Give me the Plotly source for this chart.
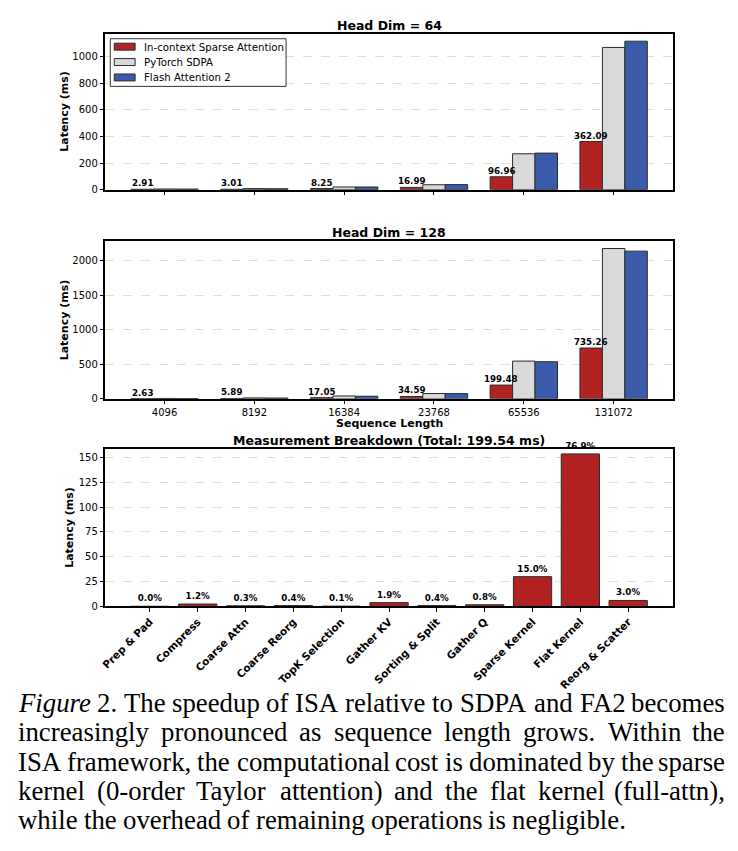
import plotly.graph_objects as go

W, H = 738, 851

# ---------------- data ----------------
seq_lengths = ["4096", "8192", "16384", "23768", "65536", "131072"]
series_names = ["In-context Sparse Attention", "PyTorch SDPA", "Flash Attention 2"]

isa_64 = [2.91, 3.01, 8.25, 16.99, 96.96, 362.09]
sdpa_64 = [5.0, 8.0, 20.0, 37.0, 270.0, 1070.0]
fa2_64 = [4.5, 7.0, 20.0, 38.0, 275.0, 1117.0]

isa_128 = [2.63, 5.89, 17.05, 34.59, 199.48, 735.26]
sdpa_128 = [6.0, 14.0, 42.0, 77.0, 546.0, 2174.0]
fa2_128 = [5.0, 12.0, 38.0, 76.0, 537.0, 2136.0]

stages = ["Prep & Pad", "Compress", "Coarse Attn", "Coarse Reorg", "TopK Selection",
          "Gather KV", "Sorting & Split", "Gather Q", "Sparse Kernel", "Flat Kernel",
          "Reorg & Scatter"]
stage_ms = [0.04, 2.39, 0.60, 0.80, 0.20, 3.79, 0.80, 1.60, 29.93, 153.45, 5.99]
total_ms = 199.54

caption_lines = [
    "Figure 2. The speedup of ISA relative to SDPA and FA2 becomes",
    "increasingly pronounced as sequence length grows. Within the",
    "ISA framework, the computational cost is dominated by the sparse",
    "kernel (0-order Taylor attention) and the flat kernel (full-attn),",
    "while the overhead of remaining operations is negligible.",
]

# ---------------- styles ----------------
colors = ["#b22222", "#d9d9d9", "#3a5ba9"]
EDGE = "#2b2b2b"
edge = dict(color=EDGE, width=1)
FONT = "DejaVu Sans"

def px_x(x):
    return x / W

def px_y(y):
    return 1 - y / H

fig = go.Figure()

pos6 = list(range(len(seq_lengths)))
pos11 = list(range(len(stages)))
offsets = [-0.375, -0.125, 0.125]
panels = [
    ("x", "y", [isa_64, sdpa_64, fa2_64]),
    ("x2", "y2", [isa_128, sdpa_128, fa2_128]),
]
ann = []
for xa, ya, data in panels:
    for i, (name, vals) in enumerate(zip(series_names, data)):
        fig.add_trace(go.Bar(
            x=pos6, y=vals, name=name, xaxis=xa, yaxis=ya,
            width=0.25, offset=offsets[i],
            marker=dict(color=colors[i], line=edge),
            showlegend=False, hoverinfo="skip",
        ))
    # value labels above ISA bars
    for p, v in zip(pos6, data[0]):
        ann.append(dict(text=f"<b>{v:.2f}</b>", x=p - 0.25, y=v, xref=xa, yref=ya,
                        showarrow=False, xanchor="center", yanchor="bottom", yshift=0,
                        borderpad=0, font=dict(family=FONT, size=8.7, color="black")))

fig.add_trace(go.Bar(
    x=pos11, y=stage_ms, xaxis="x3", yaxis="y3", width=0.8,
    marker=dict(color=colors[0], line=edge), showlegend=False,
    text=[f"<b>{v / total_ms * 100:.1f}%</b>" for v in stage_ms],
    textposition="outside", textfont=dict(family=FONT, size=8.7, color="black"),
    constraintext="none", cliponaxis=False, hoverinfo="skip",
))

xdom = [px_x(100.7), px_x(672.7)]
common_x = dict(
    domain=xdom, showline=True, mirror=True, linecolor="black", linewidth=1.5,
    ticks="outside", ticklen=3.5, tickcolor="black", showgrid=False, zeroline=False,
    tickfont=dict(family=FONT, size=10, color="black"),
)
common_y = dict(
    showline=True, mirror=True, linecolor="black", linewidth=1.5,
    ticks="outside", ticklen=3.5, tickcolor="black", showgrid=True,
    gridcolor="rgba(0,0,0,0.13)", griddash="dash", gridwidth=0.8, zeroline=False,
    tickfont=dict(family=FONT, size=10, color="black"),
)

fig.update_layout(
    width=W, height=H, margin=dict(l=0, r=0, t=0, b=0),
    paper_bgcolor="white", plot_bgcolor="white", barmode="overlay",
    font=dict(family=FONT, color="black"), showlegend=False,
    xaxis=dict(common_x, anchor="y", range=[-0.6625, 5.6625], tickvals=pos6,
               ticktext=seq_lengths, showticklabels=False),
    yaxis=dict(common_y, anchor="x", domain=[px_y(191), px_y(34)],
               range=[0, 1117 * 1.05], tickvals=[0, 200, 400, 600, 800, 1000]),
    xaxis2=dict(common_x, anchor="y2", range=[-0.6625, 5.6625], tickvals=pos6,
                ticktext=seq_lengths),
    yaxis2=dict(common_y, anchor="x2", domain=[px_y(401.7), px_y(242.7)],
                range=[0, 2174 * 1.05], tickvals=[0, 500, 1000, 1500, 2000]),
    xaxis3=dict(common_x, anchor="y3", range=[-0.94, 10.94], tickvals=pos11,
                ticktext=stages, tickangle=-45,
                tickfont=dict(family=FONT, size=10.5, color="black", weight="bold")),
    yaxis3=dict(common_y, anchor="x3", domain=[px_y(610.7), px_y(452.3)],
                range=[0, 158.3], tickvals=[0, 25, 50, 75, 100, 125, 150]),
)

# ---------------- manual legend (matplotlib style) ----------------
shapes = [dict(type="rect", xref="paper", yref="paper",
               x0=px_x(106), x1=px_x(283), y0=px_y(87), y1=px_y(39),
               line=dict(color="#333", width=1), fillcolor="white", layer="above")]
for i, (name, yc) in enumerate(zip(series_names, [47, 62.5, 78])):
    shapes.append(dict(type="rect", xref="paper", yref="paper",
                       x0=px_x(110), x1=px_x(131), y0=px_y(yc + 3.5), y1=px_y(yc - 3.5),
                       line=edge, fillcolor=colors[i], layer="above"))
    ann.append(dict(text=name, x=px_x(139), y=px_y(yc + 0.5), xref="paper", yref="paper",
                    showarrow=False, xanchor="left", yanchor="middle", borderpad=0,
                    font=dict(family=FONT, size=10.2, color="black")))

# ---------------- titles / axis labels ----------------
cx = (100.7 + 672.7) / 2
for txt, y in [("Head Dim = 64", 25.5), ("Head Dim = 128", 234.5),
               ("Measurement Breakdown (Total: 199.54 ms)", 443.5)]:
    ann.append(dict(text=f"<b>{txt}</b>", x=px_x(cx), y=px_y(y), xref="paper", yref="paper",
                    showarrow=False, xanchor="center", yanchor="middle", borderpad=0,
                    font=dict(family=FONT, size=12.5, color="black")))
ann.append(dict(text="<b>Sequence Length</b>", x=px_x(cx), y=px_y(427), xref="paper",
                yref="paper", showarrow=False, xanchor="center", yanchor="middle",
                borderpad=0, font=dict(family=FONT, size=11, color="black")))
for x, y in [(60, 112), (60, 322), (65, 531)]:
    ann.append(dict(text="<b>Latency (ms)</b>", x=px_x(x), y=px_y(y), xref="paper",
                    yref="paper", showarrow=False, textangle=-90, xanchor="center",
                    yanchor="middle", borderpad=0,
                    font=dict(family=FONT, size=11, color="black")))

# ---------------- justified caption (Times metrics) ----------------
TW = {" ": 250, "a": 444, "b": 500, "c": 444, "d": 500, "e": 444, "f": 333, "g": 500,
      "h": 500, "i": 278, "j": 278, "k": 500, "l": 278, "m": 778, "n": 500, "o": 500,
      "p": 500, "q": 500, "r": 333, "s": 389, "t": 278, "u": 500, "v": 500, "w": 722,
      "x": 500, "y": 500, "z": 444, "A": 722, "D": 722, "F": 556, "I": 333, "P": 556,
      "S": 556, "T": 611, "W": 944, ".": 250, ",": 250, "(": 333, ")": 333, "-": 333,
      "0": 500, "2": 500}
ITW = {"F": 611, "i": 278, "g": 500, "u": 500, "r": 389, "e": 444}
CAP_SIZE = 26.8
X_LEFT, X_RIGHT = 12, 726
cap_font = dict(family="Liberation Serif", size=CAP_SIZE, color="black")
cap_y = [708, 737.5, 767, 796.5, 826]

def word_width(w, italic=False):
    tab = ITW if italic else TW
    return sum(tab.get(c, 500) for c in w) / 1000 * CAP_SIZE

for li, (line, y) in enumerate(zip(caption_lines, cap_y)):
    words = line.split(" ")
    last = li == len(caption_lines) - 1
    widths = [word_width(w, italic=(li == 0 and k == 0)) for k, w in enumerate(words)]
    if last:
        gap = TW[" "] / 1000 * CAP_SIZE
    else:
        gap = (X_RIGHT - X_LEFT - sum(widths)) / (len(words) - 1)
    x = X_LEFT
    for k, (w, ww) in enumerate(zip(words, widths)):
        txt = f"<i>{w}</i>" if (li == 0 and k == 0) else w
        if (not last) and k == len(words) - 1:
            ann.append(dict(text=txt, x=px_x(X_RIGHT), y=px_y(y), xref="paper",
                            yref="paper", showarrow=False, xanchor="right",
                            yanchor="middle", borderpad=0, font=cap_font))
        else:
            ann.append(dict(text=txt, x=px_x(x), y=px_y(y), xref="paper", yref="paper",
                            showarrow=False, xanchor="left", yanchor="middle",
                            borderpad=0, font=cap_font))
        x += ww + gap

fig.update_layout(annotations=ann, shapes=shapes)
fig.write_html("out.html")
